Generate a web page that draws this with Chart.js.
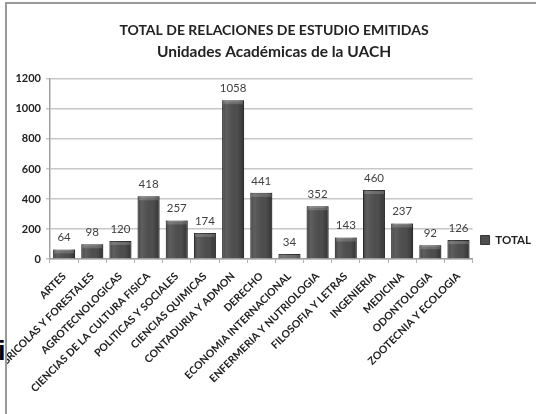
<!DOCTYPE html>
<html lang="es">
<head>
    <meta charset="UTF-8">
    <title>Relaciones de estudio emitidas</title>
    <script src="https://cdn.jsdelivr.net/npm/chart.js@4.4.1/dist/chart.umd.min.js"></script>
    <style>
        body {
            margin: 0;
            background: #fff;
            width: 536px;
            height: 414px;
            overflow: hidden;
            position: relative;
            font-family: Lato, sans-serif;
        }
        .frame {
            position: absolute;
            left: 5px;
            top: 2px;
            width: 540px;
            height: 420px;
            border-left: 2px solid #9a9a9a;
            border-top: 2px solid #9a9a9a;
        }
        .wrap {
            position: absolute;
            left: 7px;
            top: 4px;
            width: 529px;
            height: 410px;
        }
        .stray {
            position: absolute;
            left: -2px;
            top: 336px;
            font: bold 27px "Liberation Sans", sans-serif;
            color: #000;
        }
    </style>
</head>
<body>
    <div class="frame"></div>
    <div class="wrap"><canvas id="grafica"></canvas></div>
    <span class="stray">i</span>

    <script>
        // Datos
        const unidades = [
            'ARTES', 'AGRICOLAS Y FORESTALES', 'AGROTECNOLOGICAS',
            'CIENCIAS DE LA CULTURA FISICA', 'POLITICAS Y SOCIALES',
            'CIENCIAS QUIMICAS', 'CONTADURIA Y ADMON', 'DERECHO',
            'ECONOMIA INTERNACIONAL', 'ENFERMERIA Y NUTRIOLOGIA',
            'FILOSOFIA Y LETRAS', 'INGENIERIA', 'MEDICINA',
            'ODONTOLOGIA', 'ZOOTECNIA Y ECOLOGIA'
        ];
        const totales = [64, 98, 120, 418, 257, 174, 1058, 441, 34, 352, 143, 460, 237, 92, 126];
        const ticksY = [0, 200, 400, 600, 800, 1000, 1200];

        // Efecto de relieve sobre las barras
        const relieve = {
            id: 'relieve',
            afterDatasetsDraw(chart) {
                const ctx = chart.ctx;
                chart.getDatasetMeta(0).data.forEach(bar => {
                    const l = bar.x - bar.width / 2, r = bar.x + bar.width / 2;
                    const g = ctx.createLinearGradient(l, 0, r, 0);
                    g.addColorStop(0, 'rgba(0,0,0,0.3)');
                    g.addColorStop(0.25, 'rgba(255,255,255,0.08)');
                    g.addColorStop(0.7, 'rgba(0,0,0,0)');
                    g.addColorStop(1, 'rgba(0,0,0,0.35)');
                    ctx.save();
                    ctx.fillStyle = g;
                    ctx.fillRect(l, bar.y, bar.width, bar.base - bar.y);
                    const h = Math.min(4, bar.base - bar.y);
                    ctx.fillStyle = 'rgba(255,255,255,0.18)';
                    ctx.fillRect(l + 1, bar.y + 1, bar.width - 2, h - 1);
                    ctx.restore();
                });
            }
        };

        // Valores encima de cada barra
        const etiquetas = {
            id: 'etiquetas',
            afterDatasetsDraw(chart) {
                const ctx = chart.ctx;
                ctx.save();
                ctx.font = '11.5px Lato, sans-serif';
                ctx.fillStyle = '#404040';
                ctx.textAlign = 'center';
                ctx.textBaseline = 'middle';
                chart.getDatasetMeta(0).data.forEach((bar, i) => {
                    ctx.fillText(totales[i], bar.x, bar.y - 12);
                });
                ctx.restore();
            }
        };

        const ctx = document.getElementById('grafica').getContext('2d');
        new Chart(ctx, {
            type: 'bar',
            data: {
                labels: unidades,
                datasets: [{
                    label: 'TOTAL',
                    data: totales,
                    backgroundColor: '#4e4e4e',
                    borderColor: '#333',
                    borderWidth: 1,
                    categoryPercentage: 0.82,
                    barPercentage: 0.95
                }]
            },
            options: {
                responsive: true,
                maintainAspectRatio: false,
                animation: false,
                layout: { padding: { left: 0, right: -5, top: 0, bottom: 0 } },
                plugins: {
                    title: {
                        display: true,
                        text: 'TOTAL DE RELACIONES DE ESTUDIO EMITIDAS',
                        color: '#222',
                        font: { family: 'Lato', size: 14, weight: 'bold', lineHeight: 1.5 },
                        padding: { top: 15.5, bottom: 0 }
                    },
                    subtitle: {
                        display: true,
                        text: 'Unidades Académicas de la UACH',
                        color: '#222',
                        font: { family: 'Lato', size: 15.5, weight: 'bold', lineHeight: 1.35 },
                        padding: { top: 1, bottom: 16.5 }
                    },
                    legend: {
                        position: 'right',
                        align: 'center',
                        title: {
                            display: true,
                            text: ' ',
                            padding: 25,
                            font: { size: 10, lineHeight: 1.2 }
                        },
                        labels: {
                            boxWidth: 9,
                            boxHeight: 9,
                            color: '#222',
                            padding: 8,
                            font: { family: 'Lato', size: 11.5, weight: 'bold' }
                        }
                    },
                    tooltip: { enabled: false }
                },
                scales: {
                    x: {
                        afterFit(scale) { scale.height = 155; },
                        grid: {
                            display: true,
                            drawOnChartArea: false,
                            tickLength: 4,
                            color: '#b0b0b0'
                        },
                        border: { color: '#a0a0a0', width: 1.5 },
                        ticks: {
                            autoSkip: false,
                            minRotation: 45,
                            maxRotation: 45,
                            padding: 7,
                            color: '#222',
                            font: { family: 'Lato', size: 10.5, weight: 'bold' }
                        }
                    },
                    y: {
                        min: 0,
                        max: 1200,
                        afterFit(scale) { scale.width = 43; },
                        afterBuildTicks(scale) { scale.ticks = ticksY.map(v => ({ value: v })); },
                        grid: { color: '#c8c8c8', lineWidth: 1.5, tickLength: 4 },
                        border: { color: '#a0a0a0', width: 1.5 },
                        ticks: {
                            padding: 5,
                            color: '#222',
                            font: { family: 'Lato', size: 11, weight: 'bold' },
                            callback: v => String(v)
                        }
                    }
                }
            },
            plugins: [relieve, etiquetas]
        });
    </script>
</body>
</html>
